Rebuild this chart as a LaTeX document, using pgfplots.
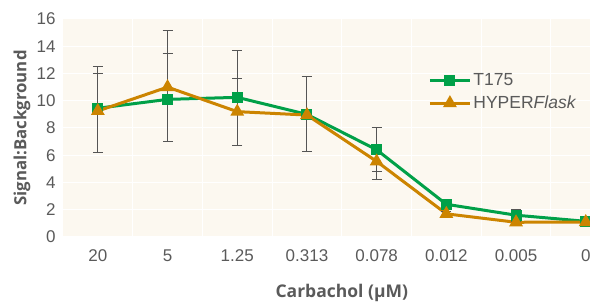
\documentclass[border=0pt]{standalone}
\usepackage{pgfplots}
\pgfplotsset{compat=1.18}
\usepackage{fontspec}
\setmainfont{Liberation Sans}
\newfontfamily\labfont{Open Sans}
\definecolor{tgreen}{RGB}{0,160,72}
\definecolor{torange}{RGB}{204,132,0}
\definecolor{bgc}{RGB}{252,248,240}
\definecolor{txtc}{RGB}{90,90,90}
\definecolor{errc}{RGB}{85,85,85}
\begin{document}
\begin{tikzpicture}
\useasboundingbox (0,0) rectangle (590pt,302pt);
\clip (0,0) rectangle (590pt,302pt);
\begin{axis}[
  at={(63pt,65pt)}, anchor=south west,
  scale only axis, width=557.6pt, height=218pt,
  xmin=-0.5, xmax=7.5, ymin=0, ymax=16,
  axis background/.style={fill=bgc},
  axis line style={draw=none},
  major tick length=0pt, minor tick length=0pt,
  xtick={0,...,7},
  xticklabels={20,5,1.25,0.313,0.078,0.012,0.005,0},
  minor xtick={0.5,1.5,...,6.5},
  ytick={0,2,...,16},
  xminorgrids=true, ymajorgrids=true, xmajorgrids=false,
  grid style={white, line width=1pt},
  minor grid style={white, line width=1pt},
  /pgf/number format/assume math mode=true,
  tick label style={font=\fontsize{17}{20}\selectfont, text=txtc},
  xticklabel style={yshift=-9pt},
  yticklabel style={xshift=-4pt},
  xlabel={Carbachol (µM)},
  ylabel={Signal:Background},
  xlabel style={at={(axis description cs:0.5,-0.278)}, anchor=base, font=\labfont\bfseries\fontsize{17.5}{20}\selectfont, text=txtc},
  ylabel style={at={(axis description cs:-0.0735,0.5)}, anchor=center, rotate=0, font=\labfont\bfseries\fontsize{16.8}{20}\selectfont, text=txtc},
  legend style={at={(axis description cs:0.655,0.76)}, anchor=north west, draw=none, fill=none,
    font=\fontsize{17.5}{20}\selectfont, text=txtc, row sep=5pt, inner sep=0pt},
  legend cell align=left,
  legend image code/.code={\draw[mark repeat=2,mark phase=2] plot coordinates {(0pt,0pt) (20pt,0pt) (40pt,0pt)};},
  error bars/error bar style={draw=errc, line width=0.9pt},
  error bars/error mark options={rotate=90, mark size=5pt, draw=errc, line width=0.9pt},
]
\addplot[tgreen, line width=3pt, mark=square*, mark size=4pt, mark options={solid},
  error bars/.cd, y dir=both, y explicit]
  table[x=x, y=y, y error plus=ep, y error minus=em] {
x y ep em
0 9.45 3.05 3.25
1 10.1 3.4 3.1
2 10.25 3.45 3.55
3 9.0 2.8 2.75
4 6.4 1.65 1.6
5 2.4 0.2 0.2
6 1.6 0.45 0.45
7 1.15 0.1 0.1
};
\addlegendentry{T175}
\addplot[torange, line width=3pt, mark=triangle*, mark size=5pt, mark options={solid},
  error bars/.cd, y dir=both, y explicit]
  table[x=x, y=y, y error plus=ep, y error minus=em] {
x y ep em
0 9.25 2.75 3.05
1 11.0 4.15 4.0
2 9.2 2.4 2.5
3 8.95 2.85 2.7
4 5.55 1.05 1.3
5 1.7 0.15 0.15
6 1.08 0.05 0.05
7 1.1 0.05 0.05
};
\addlegendentry{HYPER\textit{Flask}}
\end{axis}
\end{tikzpicture}
\end{document}
